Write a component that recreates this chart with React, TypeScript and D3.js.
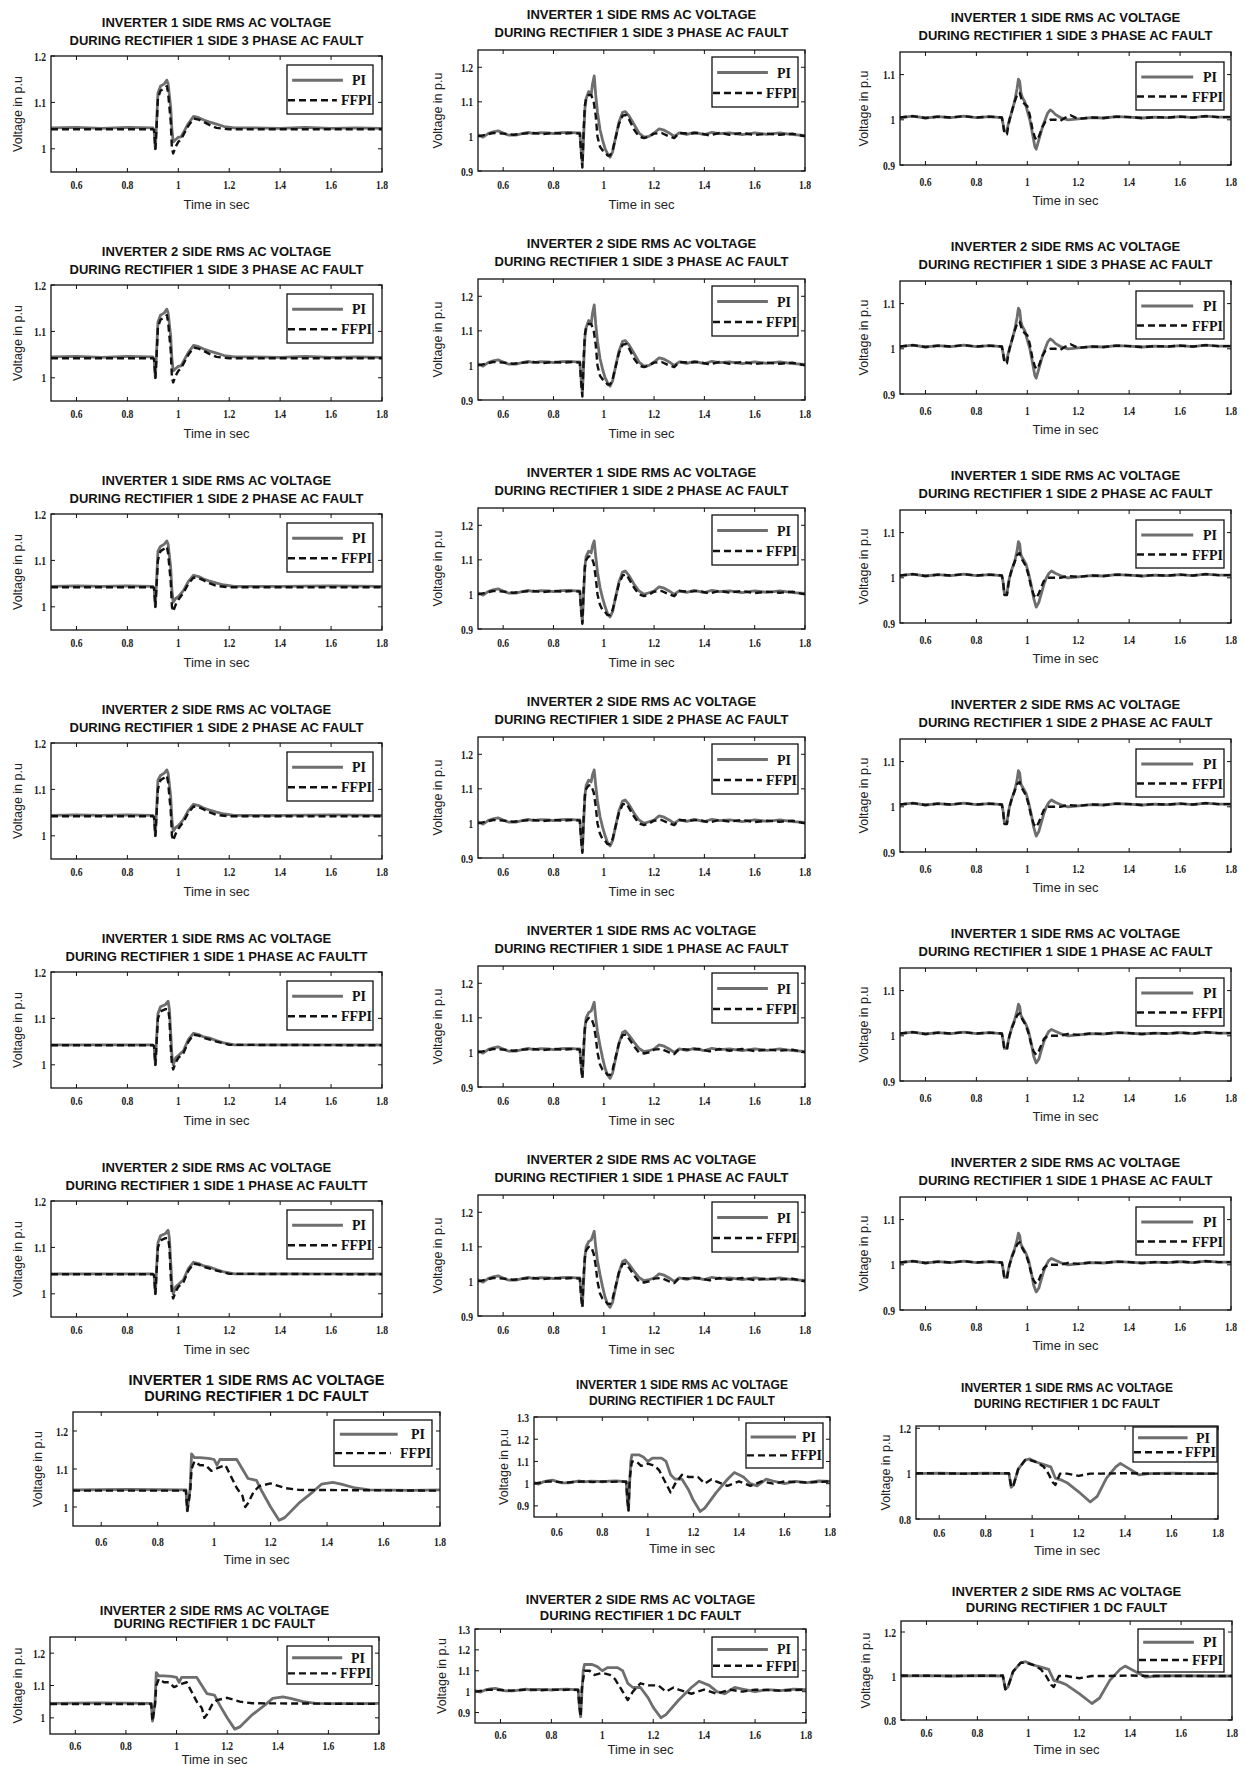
import * as d3 from "d3";
import { useEffect } from "react";

// ---- axis setup ----
const X_DOMAIN = [0.5, 1.8];
const X_TICKS = [0.6, 0.8, 1, 1.2, 1.4, 1.6, 1.8];

// ---- titles ----
const INV1 = "INVERTER 1 SIDE RMS AC VOLTAGE";
const INV2 = "INVERTER 2 SIDE RMS AC VOLTAGE";
const SUB3 = "DURING RECTIFIER 1 SIDE 3 PHASE AC FAULT";
const SUB2 = "DURING RECTIFIER 1 SIDE 2 PHASE AC FAULT";
const SUB1 = "DURING RECTIFIER 1 SIDE 1 PHASE AC FAULT";
const SUB1TT = "DURING RECTIFIER 1 SIDE 1 PHASE AC FAULTT";
const SUBDC = "DURING RECTIFIER 1 DC FAULT";

// ---- column 1 (baseline ~1.045) ----
const c1Ac3PI = [[0.5,1.045],[0.6,1.046],[0.7,1.044],[0.8,1.046],[0.9,1.045],[0.905,1.04],[0.91,1.0],[0.915,1.06],[0.92,1.12],[0.93,1.135],[0.945,1.14],[0.955,1.148],[0.96,1.14],[0.97,1.09],[0.975,1.04],[0.98,1.015],[0.99,1.02],[1.0,1.025],[1.01,1.025],[1.02,1.035],[1.04,1.055],[1.06,1.07],[1.08,1.067],[1.1,1.062],[1.12,1.058],[1.15,1.053],[1.18,1.048],[1.22,1.045],[1.3,1.045],[1.4,1.044],[1.5,1.046],[1.6,1.044],[1.7,1.045],[1.8,1.044]];
const c1Ac3FF = [[0.5,1.042],[0.9,1.042],[0.905,1.04],[0.91,1.0],[0.915,1.05],[0.92,1.11],[0.93,1.125],[0.945,1.13],[0.955,1.135],[0.96,1.12],[0.97,1.06],[0.975,1.0],[0.98,0.99],[0.99,1.005],[1.0,1.015],[1.01,1.02],[1.02,1.03],[1.04,1.05],[1.06,1.065],[1.08,1.063],[1.1,1.058],[1.12,1.052],[1.15,1.045],[1.2,1.042],[1.8,1.042]];
const c1Ac2PI = [[0.5,1.044],[0.6,1.045],[0.7,1.044],[0.8,1.045],[0.9,1.044],[0.905,1.04],[0.91,1.0],[0.915,1.06],[0.92,1.12],[0.93,1.13],[0.945,1.135],[0.955,1.142],[0.96,1.135],[0.97,1.085],[0.975,1.035],[0.98,1.01],[0.99,1.018],[1.0,1.022],[1.02,1.035],[1.04,1.055],[1.06,1.068],[1.08,1.065],[1.1,1.06],[1.12,1.056],[1.15,1.051],[1.18,1.047],[1.22,1.044],[1.4,1.044],[1.6,1.045],[1.8,1.044]];
const c1Ac2FF = [[0.5,1.042],[0.9,1.042],[0.905,1.04],[0.91,1.0],[0.915,1.05],[0.92,1.1],[0.93,1.12],[0.945,1.125],[0.955,1.13],[0.96,1.115],[0.97,1.055],[0.975,1.0],[0.98,0.99],[0.99,1.005],[1.0,1.015],[1.02,1.03],[1.04,1.05],[1.06,1.063],[1.08,1.062],[1.1,1.057],[1.12,1.051],[1.15,1.045],[1.2,1.042],[1.8,1.042]];
const c1Ac1PI = [[0.5,1.043],[0.9,1.043],[0.905,1.04],[0.91,1.0],[0.915,1.06],[0.92,1.11],[0.93,1.125],[0.95,1.13],[0.96,1.137],[0.965,1.12],[0.97,1.07],[0.975,1.02],[0.98,1.0],[0.99,1.015],[1.0,1.02],[1.02,1.03],[1.04,1.055],[1.06,1.068],[1.08,1.065],[1.1,1.06],[1.12,1.058],[1.15,1.052],[1.18,1.047],[1.22,1.043],[1.8,1.043]];
const c1Ac1FF = [[0.5,1.042],[0.9,1.042],[0.905,1.04],[0.91,1.0],[0.915,1.05],[0.92,1.1],[0.93,1.115],[0.95,1.12],[0.96,1.12],[0.965,1.1],[0.97,1.04],[0.975,1.0],[0.98,0.99],[0.99,1.005],[1.0,1.015],[1.02,1.025],[1.04,1.05],[1.06,1.065],[1.08,1.063],[1.1,1.058],[1.12,1.055],[1.15,1.05],[1.2,1.043],[1.8,1.042]];
const c1DcPI = [[0.5,1.045],[0.7,1.046],[0.9,1.045],[0.905,0.99],[0.91,1.02],[0.915,1.05],[0.92,1.14],[0.93,1.13],[0.95,1.13],[0.98,1.128],[1.0,1.125],[1.01,1.11],[1.02,1.125],[1.05,1.125],[1.08,1.125],[1.1,1.1],[1.12,1.075],[1.15,1.07],[1.17,1.04],[1.2,1.0],[1.23,0.965],[1.25,0.972],[1.3,1.01],[1.35,1.04],[1.38,1.06],[1.42,1.065],[1.45,1.06],[1.5,1.05],[1.55,1.045],[1.7,1.044],[1.8,1.045]];
const c1DcFF = [[0.5,1.043],[0.9,1.043],[0.905,0.99],[0.915,1.04],[0.92,1.1],[0.93,1.12],[0.95,1.11],[0.97,1.11],[0.99,1.095],[1.02,1.105],[1.04,1.11],[1.06,1.08],[1.08,1.05],[1.1,1.03],[1.11,1.0],[1.12,1.01],[1.14,1.04],[1.16,1.055],[1.2,1.062],[1.23,1.055],[1.25,1.05],[1.3,1.045],[1.8,1.043]];

// ---- column 2 (baseline ~1.01) ----
const c2PrePI = [[0.5,1.005],[0.52,0.998],[0.54,1.008],[0.56,1.013],[0.58,1.016],[0.6,1.01],[0.62,1.004],[0.65,1.004],[0.68,1.009],[0.7,1.012],[0.72,1.008],[0.75,1.011],[0.78,1.01],[0.8,1.008],[0.83,1.011],[0.86,1.012],[0.89,1.01],[0.905,1.01]];
const c2PostPI = [[1.2,1.01],[1.22,1.022],[1.24,1.018],[1.26,1.01],[1.28,1.0],[1.3,1.01],[1.33,1.006],[1.36,1.012],[1.4,1.005],[1.43,1.012],[1.46,1.008],[1.5,1.01],[1.55,1.005],[1.6,1.01],[1.65,1.006],[1.7,1.01],[1.75,1.005],[1.8,1.003]];
const c2PreFF = [[0.5,1.0],[0.53,1.005],[0.56,1.01],[0.6,1.008],[0.64,1.005],[0.68,1.008],[0.72,1.01],[0.76,1.007],[0.8,1.01],[0.84,1.008],[0.88,1.01],[0.905,1.008]];
const c2PostFF = [[1.2,1.008],[1.23,1.01],[1.26,1.0],[1.28,0.995],[1.3,1.01],[1.34,1.008],[1.38,1.01],[1.42,1.003],[1.46,1.01],[1.5,1.005],[1.55,1.01],[1.6,1.004],[1.65,1.008],[1.7,1.005],[1.75,1.008],[1.8,1.0]];
const c2Ac3PI = [...c2PrePI, [0.91,0.96],[0.915,0.92],[0.92,1.0],[0.925,1.08],[0.93,1.11],[0.94,1.13],[0.95,1.12],[0.955,1.15],[0.962,1.175],[0.968,1.12],[0.975,1.07],[0.985,1.02],[0.995,0.99],[1.005,0.965],[1.015,0.95],[1.025,0.94],[1.035,0.955],[1.045,0.99],[1.06,1.04],[1.075,1.07],[1.085,1.072],[1.1,1.06],[1.12,1.035],[1.14,1.01],[1.16,0.998],[1.18,1.0], ...c2PostPI];
const c2Ac3FF = [...c2PreFF, [0.91,0.95],[0.915,0.91],[0.92,1.02],[0.925,1.09],[0.93,1.11],[0.94,1.12],[0.95,1.12],[0.96,1.1],[0.968,1.06],[0.975,1.0],[0.985,0.97],[0.995,0.96],[1.005,0.955],[1.015,0.945],[1.025,0.945],[1.035,0.96],[1.045,0.99],[1.06,1.035],[1.075,1.06],[1.09,1.062],[1.1,1.05],[1.12,1.02],[1.14,1.0],[1.16,0.995],[1.18,1.0], ...c2PostFF];
const c2Ac2PI = [...c2PrePI, [0.91,0.96],[0.915,0.92],[0.92,1.0],[0.925,1.08],[0.93,1.11],[0.94,1.125],[0.95,1.12],[0.955,1.14],[0.962,1.155],[0.968,1.11],[0.975,1.065],[0.985,1.02],[0.995,0.99],[1.005,0.965],[1.015,0.945],[1.025,0.935],[1.035,0.95],[1.045,0.985],[1.06,1.035],[1.075,1.065],[1.085,1.068],[1.1,1.055],[1.12,1.03],[1.14,1.01],[1.16,1.0],[1.18,1.005], ...c2PostPI];
const c2Ac2FF = [...c2PreFF, [0.91,0.95],[0.915,0.915],[0.92,1.02],[0.925,1.08],[0.93,1.1],[0.94,1.11],[0.95,1.11],[0.96,1.09],[0.968,1.05],[0.975,1.0],[0.985,0.97],[0.995,0.955],[1.005,0.95],[1.015,0.94],[1.025,0.94],[1.035,0.955],[1.045,0.985],[1.06,1.03],[1.075,1.055],[1.09,1.058],[1.1,1.045],[1.12,1.02],[1.14,1.0],[1.16,0.995],[1.18,1.0], ...c2PostFF];
const c2Ac1PI = [...c2PrePI, [0.91,0.965],[0.915,0.93],[0.92,1.0],[0.925,1.07],[0.93,1.1],[0.94,1.115],[0.95,1.12],[0.955,1.13],[0.962,1.145],[0.968,1.1],[0.975,1.06],[0.985,1.02],[0.995,0.985],[1.005,0.955],[1.015,0.935],[1.025,0.925],[1.035,0.94],[1.045,0.975],[1.06,1.025],[1.075,1.058],[1.085,1.062],[1.1,1.05],[1.12,1.03],[1.14,1.012],[1.16,1.002],[1.18,1.005], ...c2PostPI];
const c2Ac1FF = [...c2PreFF, [0.91,0.955],[0.915,0.925],[0.92,1.02],[0.925,1.07],[0.93,1.09],[0.94,1.1],[0.95,1.1],[0.96,1.08],[0.968,1.045],[0.975,1.0],[0.985,0.965],[0.995,0.95],[1.005,0.945],[1.015,0.935],[1.025,0.935],[1.035,0.95],[1.045,0.98],[1.06,1.025],[1.075,1.05],[1.09,1.052],[1.1,1.04],[1.12,1.018],[1.14,1.0],[1.16,0.997],[1.18,1.0], ...c2PostFF];
const c2DcPI = [...c2PrePI, [0.91,0.93],[0.915,0.88],[0.92,1.0],[0.925,1.1],[0.93,1.13],[0.96,1.13],[0.98,1.12],[1.0,1.1],[1.02,1.115],[1.06,1.115],[1.08,1.1],[1.1,1.04],[1.12,1.02],[1.15,1.02],[1.18,0.97],[1.2,0.925],[1.23,0.875],[1.25,0.89],[1.3,0.96],[1.35,1.02],[1.38,1.05],[1.42,1.03],[1.45,1.0],[1.48,0.99],[1.52,1.02],[1.55,1.012],[1.6,1.0],[1.65,1.01],[1.7,1.005],[1.75,1.012],[1.8,1.01]];
const c2DcFF = [...c2PreFF, [0.91,0.93],[0.915,0.88],[0.92,1.02],[0.93,1.1],[0.95,1.1],[0.97,1.08],[1.0,1.09],[1.03,1.08],[1.05,1.06],[1.08,1.0],[1.1,0.96],[1.12,1.0],[1.15,1.04],[1.18,1.03],[1.22,1.03],[1.25,1.0],[1.28,1.02],[1.3,1.01],[1.35,0.99],[1.4,1.01],[1.45,0.99],[1.5,1.01],[1.55,1.0],[1.6,1.01],[1.7,1.005],[1.8,1.01]];

// ---- column 3 (baseline ~1.005) ----
const c3Pre = [[0.5,1.005],[0.55,1.008],[0.6,1.004],[0.65,1.007],[0.7,1.005],[0.75,1.008],[0.8,1.005],[0.85,1.007],[0.9,1.005]];
const c3Post = [[1.2,1.002],[1.25,1.005],[1.3,1.004],[1.35,1.007],[1.4,1.006],[1.45,1.004],[1.5,1.006],[1.55,1.005],[1.6,1.007],[1.65,1.005],[1.7,1.008],[1.75,1.006],[1.8,1.006]];
const c3Ac3PI = [...c3Pre, [0.905,0.99],[0.91,0.975],[0.92,0.975],[0.925,0.99],[0.93,1.0],[0.94,1.02],[0.95,1.04],[0.96,1.07],[0.965,1.09],[0.97,1.085],[0.975,1.06],[0.98,1.05],[0.99,1.04],[1.0,1.02],[1.01,1.0],[1.02,0.97],[1.03,0.94],[1.035,0.935],[1.04,0.945],[1.05,0.965],[1.06,0.985],[1.07,1.0],[1.08,1.015],[1.09,1.022],[1.1,1.018],[1.11,1.012],[1.13,1.005],[1.16,1.0], ...c3Post];
const c3Ac3FF = [...c3Pre, [0.905,0.99],[0.91,0.97],[0.92,0.968],[0.925,0.985],[0.93,1.0],[0.94,1.02],[0.95,1.04],[0.96,1.055],[0.97,1.06],[0.975,1.05],[0.98,1.04],[0.99,1.035],[1.0,1.03],[1.01,1.01],[1.02,0.98],[1.03,0.96],[1.04,0.955],[1.05,0.97],[1.06,0.985],[1.07,0.995],[1.09,1.0],[1.11,1.0],[1.13,0.998],[1.15,1.005],[1.17,1.01], ...c3Post];
const c3Ac2PI = [...c3Pre, [0.905,0.99],[0.91,0.965],[0.92,0.965],[0.925,0.985],[0.93,1.0],[0.94,1.02],[0.95,1.035],[0.96,1.06],[0.965,1.08],[0.97,1.075],[0.975,1.05],[0.985,1.04],[0.995,1.03],[1.005,1.01],[1.015,0.985],[1.025,0.955],[1.035,0.935],[1.045,0.945],[1.055,0.965],[1.065,0.985],[1.075,1.0],[1.085,1.01],[1.095,1.015],[1.11,1.01],[1.13,1.005],[1.16,1.0], ...c3Post];
const c3Ac2FF = [...c3Pre, [0.905,0.99],[0.91,0.962],[0.92,0.962],[0.925,0.982],[0.93,1.0],[0.94,1.02],[0.95,1.035],[0.96,1.05],[0.97,1.055],[0.975,1.045],[0.985,1.035],[0.995,1.025],[1.005,1.005],[1.015,0.98],[1.025,0.962],[1.035,0.955],[1.045,0.965],[1.055,0.98],[1.065,0.993],[1.08,1.0],[1.1,1.0],[1.13,1.0],[1.16,1.004], ...c3Post];
const c3Ac1PI = [...c3Pre, [0.905,0.99],[0.91,0.972],[0.92,0.972],[0.925,0.988],[0.93,1.0],[0.94,1.02],[0.95,1.035],[0.96,1.055],[0.965,1.07],[0.97,1.065],[0.975,1.045],[0.985,1.035],[0.995,1.025],[1.005,1.01],[1.015,0.985],[1.025,0.955],[1.035,0.94],[1.045,0.948],[1.055,0.968],[1.065,0.987],[1.075,1.0],[1.085,1.01],[1.095,1.014],[1.11,1.01],[1.13,1.005],[1.16,1.0], ...c3Post];
const c3Ac1FF = [...c3Pre, [0.905,0.99],[0.91,0.97],[0.92,0.97],[0.925,0.986],[0.93,1.0],[0.94,1.018],[0.95,1.032],[0.96,1.045],[0.97,1.05],[0.975,1.042],[0.985,1.032],[0.995,1.022],[1.005,1.005],[1.015,0.982],[1.025,0.965],[1.035,0.958],[1.045,0.966],[1.055,0.98],[1.065,0.993],[1.08,1.0],[1.1,1.0],[1.13,1.0],[1.16,1.004], ...c3Post];
const c3DcPI = [[0.5,1.0],[0.6,1.002],[0.7,1.0],[0.8,1.002],[0.9,1.0],[0.91,0.94],[0.92,0.95],[0.94,1.02],[0.97,1.06],[0.99,1.065],[1.02,1.05],[1.05,1.04],[1.08,1.03],[1.1,0.98],[1.13,0.97],[1.15,0.96],[1.2,0.92],[1.25,0.875],[1.28,0.9],[1.32,0.98],[1.36,1.03],[1.38,1.045],[1.42,1.02],[1.46,0.995],[1.5,1.0],[1.6,1.002],[1.7,1.0],[1.8,1.0]];
const c3DcFF = [[0.5,1.002],[0.7,1.0],[0.9,1.002],[0.91,0.94],[0.92,0.95],[0.94,1.02],[0.97,1.06],[0.99,1.06],[1.02,1.05],[1.05,1.03],[1.07,1.0],[1.09,0.96],[1.1,0.95],[1.12,1.0],[1.15,1.0],[1.2,0.99],[1.25,1.0],[1.3,1.0],[1.4,1.002],[1.5,1.0],[1.6,1.0],[1.8,1.0]];

// ---- panel content per column, rows top to bottom ----
const col1Content = [
  [INV1, SUB3, c1Ac3PI, c1Ac3FF],
  [INV2, SUB3, c1Ac3PI, c1Ac3FF],
  [INV1, SUB2, c1Ac2PI, c1Ac2FF],
  [INV2, SUB2, c1Ac2PI, c1Ac2FF],
  [INV1, SUB1TT, c1Ac1PI, c1Ac1FF],
  [INV2, SUB1TT, c1Ac1PI, c1Ac1FF],
  [INV1, SUBDC, c1DcPI, c1DcFF],
  [INV2, SUBDC, c1DcPI, c1DcFF],
];
const col2Content = [
  [INV1, SUB3, c2Ac3PI, c2Ac3FF],
  [INV2, SUB3, c2Ac3PI, c2Ac3FF],
  [INV1, SUB2, c2Ac2PI, c2Ac2FF],
  [INV2, SUB2, c2Ac2PI, c2Ac2FF],
  [INV1, SUB1, c2Ac1PI, c2Ac1FF],
  [INV2, SUB1, c2Ac1PI, c2Ac1FF],
  [INV1, SUBDC, c2DcPI, c2DcFF],
  [INV2, SUBDC, c2DcPI, c2DcFF],
];
const col3Content = [
  [INV1, SUB3, c3Ac3PI, c3Ac3FF],
  [INV2, SUB3, c3Ac3PI, c3Ac3FF],
  [INV1, SUB2, c3Ac2PI, c3Ac2FF],
  [INV2, SUB2, c3Ac2PI, c3Ac2FF],
  [INV1, SUB1, c3Ac1PI, c3Ac1FF],
  [INV2, SUB1, c3Ac1PI, c3Ac1FF],
  [INV1, SUBDC, c3DcPI, c3DcFF],
  [INV2, SUBDC, c3DcPI, c3DcFF],
];

// ---- layout ----
const ROW_STEP = 229;
const colLayout = [
  { x0: 51, x1: 382, top: 56, h: 116, yDom: [0.95, 1.2], yTicks: [1, 1.1, 1.2], lg: [287, 9, 373, 58], t1: 29, t2: 11, tfs: 13, tk: 17, xl: 37, yl: 17 },
  { x0: 478, x1: 805, top: 50, h: 121, yDom: [0.9, 1.25], yTicks: [0.9, 1, 1.1, 1.2], lg: [712, 7, 798, 57], t1: 31, t2: 13, tfs: 13, tk: 18, xl: 38, yl: 437 },
  { x0: 900, x1: 1231, top: 52, h: 113, yDom: [0.9, 1.15], yTicks: [0.9, 1, 1.1], lg: [1136, 10, 1224, 58], t1: 30, t2: 12, tfs: 13, tk: 21, xl: 40, yl: 863 },
];
const dcLayout = [
  [
    { x0: 73, x1: 440, y0: 1412, y1: 1526, yDom: [0.95, 1.25], yTicks: [1, 1.1, 1.2], lg: [334, 1420, 432, 1466], t1: 27, t2: 11, tfs: 14.5, tk: 20, xl: 38, yl: 37 },
    { x0: 50, x1: 379, y0: 1637, y1: 1734, yDom: [0.95, 1.25], yTicks: [1, 1.1, 1.2], lg: [287, 1646, 372, 1684], t1: 22, t2: 9, tfs: 13, tk: 16, xl: 30, yl: 17 },
  ],
  [
    { x0: 534, x1: 830, y0: 1417, y1: 1517, yDom: [0.85, 1.3], yTicks: [0.9, 1, 1.1, 1.2, 1.3], lg: [746, 1423, 823, 1468], t1: 28, t2: 12, tfs: 12, tk: 19, xl: 36, yl: 503 },
    { x0: 475, x1: 806, y0: 1629, y1: 1723, yDom: [0.85, 1.3], yTicks: [0.9, 1, 1.1, 1.2, 1.3], lg: [712, 1637, 798, 1677], t1: 25, t2: 9, tfs: 13, tk: 16, xl: 31, yl: 441 },
  ],
  [
    { x0: 916, x1: 1218, y0: 1426, y1: 1519, yDom: [0.8, 1.21], yTicks: [0.8, 1, 1.2], lg: [1133, 1427, 1217, 1462], t1: 34, t2: 18, tfs: 12, tk: 18, xl: 36, yl: 885 },
    { x0: 901, x1: 1232, y0: 1621, y1: 1720, yDom: [0.8, 1.25], yTicks: [0.8, 1, 1.2], lg: [1138, 1629, 1224, 1672], t1: 25, t2: 9, tfs: 13, tk: 17, xl: 34, yl: 865 },
  ],
];

function buildPanels() {
  const contents = [col1Content, col2Content, col3Content];
  const out = [];
  contents.forEach((rows, c) => {
    rows.forEach((row, r) => {
      let lay;
      if (r < 6) {
        const L = colLayout[c];
        const y0 = L.top + r * ROW_STEP;
        lay = { ...L, y0, y1: y0 + L.h, lg: [L.lg[0], y0 + L.lg[1], L.lg[2], y0 + L.lg[3]] };
      } else {
        lay = dcLayout[c][r - 6];
      }
      out.push({ key: `p${c}${r}`, title1: row[0], title2: row[1], pi: row[2], ff: row[3], ...lay });
    });
  });
  return out;
}

const fmt = (v) => String(v);
const tickWidth = (s) => s.replace(".", "").length * 4.6 + (s.includes(".") ? 2.8 : 0);

function Panel({ p }) {
  const x = d3.scaleLinear().domain(X_DOMAIN).range([p.x0, p.x1]);
  const y = d3.scaleLinear().domain(p.yDom).range([p.y1, p.y0]);
  const line = d3.line().x((d) => x(d[0])).y((d) => y(d[1]));
  const cx = (p.x0 + p.x1) / 2;
  const cy = (p.y0 + p.y1) / 2;
  const [lx0, ly0, lx1, ly1] = p.lg;
  const lw = lx1 - lx0;
  const lh = ly1 - ly0;
  const tickFont = { fontFamily: "Liberation Serif", fontWeight: "bold", fontSize: 12.5, fill: "#1a1a1a" };
  return (
    <g>
      <defs>
        <clipPath id={`clip-${p.key}`}>
          <rect x={p.x0} y={p.y0} width={p.x1 - p.x0} height={p.y1 - p.y0} />
        </clipPath>
      </defs>
      <text x={cx} y={p.y0 - p.t1} textAnchor="middle" fontFamily="Liberation Sans" fontWeight="bold" fontSize={p.tfs} fill="#111">{p.title1}</text>
      <text x={cx} y={p.y0 - p.t2} textAnchor="middle" fontFamily="Liberation Sans" fontWeight="bold" fontSize={p.tfs} fill="#111">{p.title2}</text>

      <g clipPath={`url(#clip-${p.key})`}>
        <path d={line(p.pi)} fill="none" stroke="#6e6e6e" strokeWidth={2.8} strokeLinejoin="round" />
        <path d={line(p.ff)} fill="none" stroke="#111" strokeWidth={2.4} strokeDasharray="7,4" strokeLinejoin="round" />
      </g>

      <rect x={p.x0} y={p.y0} width={p.x1 - p.x0} height={p.y1 - p.y0} fill="none" stroke="#111" strokeWidth={1.3} />

      {X_TICKS.map((t) => (
        <g key={`x${t}`}>
          <line x1={x(t)} x2={x(t)} y1={p.y1} y2={p.y1 - 4} stroke="#111" />
          <line x1={x(t)} x2={x(t)} y1={p.y0} y2={p.y0 + 4} stroke="#111" />
          <text x={x(t)} y={p.y1 + p.tk} textAnchor="middle" {...tickFont} textLength={tickWidth(fmt(t))} lengthAdjust="spacingAndGlyphs">{fmt(t)}</text>
        </g>
      ))}
      {p.yTicks.map((t) => (
        <g key={`y${t}`}>
          <line x1={p.x0} x2={p.x0 + 4} y1={y(t)} y2={y(t)} stroke="#111" />
          <line x1={p.x1} x2={p.x1 - 4} y1={y(t)} y2={y(t)} stroke="#111" />
          <text x={p.x0 - 5} y={y(t) + 4.5} textAnchor="end" {...tickFont} textLength={tickWidth(fmt(t))} lengthAdjust="spacingAndGlyphs">{fmt(t)}</text>
        </g>
      ))}

      <text x={cx} y={p.y1 + p.xl} textAnchor="middle" fontFamily="Liberation Sans" fontSize={13} fill="#222">Time in sec</text>
      <text transform={`translate(${p.yl + 4.5},${cy}) rotate(-90)`} textAnchor="middle" fontFamily="Liberation Sans" fontSize={12.5} fill="#222">Voltage in p.u</text>

      <rect x={lx0} y={ly0} width={lw} height={lh} fill="#fff" stroke="#111" strokeWidth={1.3} />
      <line x1={lx0 + lw * 0.06} x2={lx0 + lw * 0.65} y1={ly0 + lh * 0.31} y2={ly0 + lh * 0.31} stroke="#6e6e6e" strokeWidth={3} />
      <text x={lx1 - 7} y={ly0 + lh * 0.31 + 5} textAnchor="end" fontFamily="Liberation Serif" fontWeight="bold" fontSize={14} fill="#111">PI</text>
      <line x1={lx0 + 1} x2={lx0 + lw * 0.58} y1={ly0 + lh * 0.72} y2={ly0 + lh * 0.72} stroke="#111" strokeWidth={2.4} strokeDasharray="7,4" />
      <text x={lx1 - 1} y={ly0 + lh * 0.72 + 5} textAnchor="end" fontFamily="Liberation Serif" fontWeight="bold" fontSize={14} fill="#111">FFPI</text>
    </g>
  );
}

export default function App() {
  useEffect(() => {
    document.body.style.margin = "0";
  }, []);
  const panels = buildPanels();
  return (
    <svg width={1246} height={1767} style={{ display: "block", background: "#fff" }}>
      {panels.map((p) => (
        <Panel key={p.key} p={p} />
      ))}
    </svg>
  );
}
